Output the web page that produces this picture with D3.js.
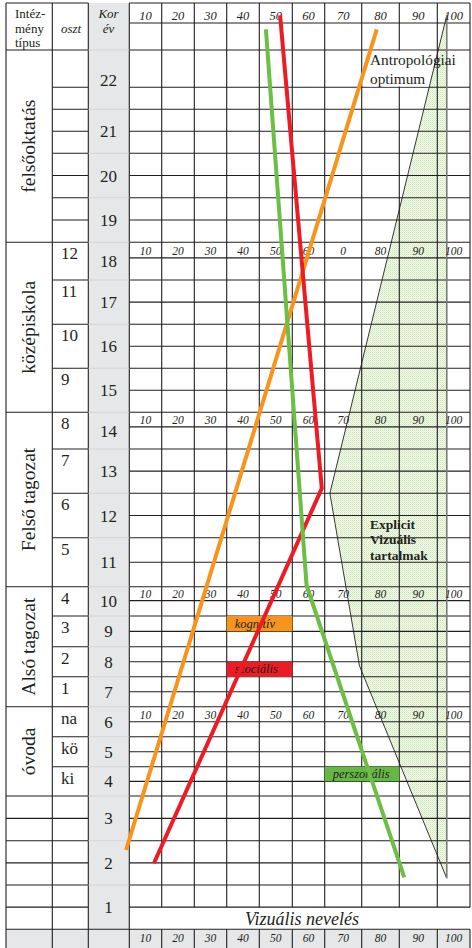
<!DOCTYPE html>
<html>
<head>
<meta charset="utf-8">
<script src="https://cdn.jsdelivr.net/npm/d3@7"></script>
<style>
  body { margin: 0; background: #fff; }
  svg { display: block; }
  text { font-family: "Liberation Serif", "Times New Roman", serif; fill: #231f20; }
</style>
</head>
<body>
<div id="chart"></div>
<script>
// ---- data ----
var ages = d3.range(22, 0, -1);               // Kor (év) 22 .. 1
var valueTicks = [10, 20, 30, 40, 50, 60, 70, 80, 90, 100];
var tickText = valueTicks.map(String);
var tickTextKozep = ["10", "20", "30", "40", "50", "60", "0", "80", "90", "100"]; // printed like this
var sectionNames = ["felsőoktatás", "középiskola", "Felső tagozat", "Alsó tagozat", "óvoda"];
var sectionAges = [[22, 19], [18, 15], [14, 11], [10, 7], [6, 4]];
var osztAges = [18, 17, 16, 15, 14, 13, 12, 11, 10, 9, 8, 7, 6, 5, 4];
var osztText = ["12", "11", "10", "9", "8", "7", "6", "5", "4", "3", "2", "1", "na", "kö", "ki"];

// lines: [value, age]
var kognitiv = [[4.0, 2.29], [79.0, 22.94]];
var szocialis = [[12.6, 1.99], [64.1, 12.61], [51.3, 23.24]];
var perszonalis = [[47.0, 22.94], [59.4, 10.53], [86.3, 1.67]];
var explicitArea = [[97.9, 23.24], [66.4, 12.5], [74.4, 7.86], [97.9, 1.65]];

// legend boxes: name, value from-to, age from-to
var labelNames = ["kognitív", "szociális", "perszonális"];
var labelValues = [[35, 55], [35, 55], [65, 85]];
var labelAges = [[9.5, 9.0], [8.0, 7.5], [4.5, 4.0]];
var labelColors = ["#f7941e", "#ec1c24", "#66b846"];

// ---- layout ----
var width = 472, height = 948;
var colInst = 6, colOszt = 52.3, colKor = 88.3, colGrid = 129.3, right = 470;
var topY = 3, headLabelY = 23, footTop = 929.3;
var korEdges = [50, 109.3, 153.3, 197.7, 242.3, 280, 324.3, 368.3, 412.3, 449, 493.3,
  537.7, 586.7, 616, 646.7, 676.7, 706.7, 736.7, 766.7, 796, 840.7, 885, 929.3];
var ink = "#231f20", korGray = "#e6e7e8";

var svg = d3.select("#chart").append("svg")
  .attr("width", width)
  .attr("height", height);

var x = d3.scaleLinear()
  .domain(d3.range(5, 106, 10))
  .range([129.3, 161.7, 194.3, 226.7, 259.3, 292.3, 324.7, 361.7, 399.3, 437.3, 470]);

var y = d3.scaleLinear()
  .domain([23.5].concat(korEdges.map(function (d, i) { return 22.5 - i; })))
  .range([topY].concat(korEdges));

var firstAges = sectionAges.map(function (s) { return s[0]; });
function cellTop(a) { return y(a + 0.5); }
function cellBot(a) { return y(a - 0.5); }
function split(a) {
  if (firstAges.indexOf(a) >= 0) return cellBot(a) - (cellBot(a - 1) - cellTop(a - 1)) / 2;
  return (cellTop(a) + cellBot(a)) / 2;
}
var gridBottom = split(1);

// pattern for the shaded area
var defs = svg.append("defs");
var pat = defs.append("pattern").attr("id", "dots")
  .attr("width", 2).attr("height", 2).attr("patternUnits", "userSpaceOnUse");
pat.append("rect").attr("width", 2).attr("height", 2).attr("fill", "#f4faee");
pat.append("rect").attr("width", 1).attr("height", 1).attr("fill", "#cde6b5");
pat.append("rect").attr("x", 1).attr("y", 1).attr("width", 1).attr("height", 1).attr("fill", "#dcefca");

// gray Kor column and footer
svg.append("rect").attr("x", colKor).attr("y", topY).attr("width", colGrid - colKor)
  .attr("height", footTop - topY).attr("fill", korGray);
svg.append("rect").attr("x", colInst).attr("y", footTop).attr("width", right - colInst)
  .attr("height", height - footTop).attr("fill", korGray);

// shaded area fill
var line = d3.line().x(function (d) { return x(d[0]); }).y(function (d) { return y(d[1]); });
svg.append("path").attr("d", line(explicitArea) + "Z").attr("fill", "url(#dots)");

// ---- grid lines ----
var g = svg.append("g").attr("stroke", ink).attr("stroke-width", 1.1).attr("fill", "none");
function hline(x1, x2, yy) { g.append("line").attr("x1", x1).attr("x2", x2).attr("y1", yy).attr("y2", yy); }
function vline(xx, y1, y2) { g.append("line").attr("x1", xx).attr("x2", xx).attr("y1", y1).attr("y2", y2); }

// grid rows
var gridRows = [topY, headLabelY, korEdges[0]];
ages.forEach(function (a) { gridRows.push(split(a)); if (a > 1) gridRows.push(cellBot(a)); });
gridRows.forEach(function (r) { hline(colGrid, right, r); });
hline(colInst, right, footTop);
hline(colInst, colKor, topY);
hline(colInst, colKor, korEdges[0]);

// institution column
sectionAges.forEach(function (s) { hline(colInst, colOszt, cellBot(s[1])); });
[3, 2, 1].forEach(function (a) { hline(colInst, colOszt, split(a)); if (a > 1) hline(colInst, colOszt, cellBot(a)); });

// oszt column
ages.forEach(function (a) {
  var withOszt = osztAges.indexOf(a) >= 0;
  if (!withOszt) hline(colOszt, colKor, split(a));
  if (a > 1) hline(colOszt, colKor, cellBot(a));
});

// Kor column cell borders (light)
svg.append("g").selectAll("line").data(ages.slice(0, -1).concat([23])).enter().append("line")
  .attr("x1", colKor).attr("x2", colGrid)
  .attr("y1", function (a) { return cellBot(a); })
  .attr("y2", function (a) { return cellBot(a); })
  .attr("stroke", "#d0d0d2").attr("stroke-width", 0.8);

// vertical lines
[colInst, colOszt, colKor, colGrid].forEach(function (c) { vline(c, topY, height); });
d3.range(15, 96, 10).forEach(function (v) { vline(x(v), topY, gridBottom); vline(x(v), footTop, height); });
vline(right, topY, gridBottom);
vline(right, footTop, height);

// white box behind "Antropológiai optimum"
svg.append("rect").attr("x", 366).attr("y", korEdges[0] + 0.8)
  .attr("width", 64).attr("height", split(22) - korEdges[0] - 1.6).attr("fill", "#fff");

// shaded area outline
svg.append("path").attr("d", line(explicitArea))
  .attr("fill", "none").attr("stroke", ink).attr("stroke-width", 0.9);
svg.append("line")
  .attr("x1", x(explicitArea[0][0])).attr("x2", x(explicitArea[3][0]))
  .attr("y1", y(explicitArea[0][1])).attr("y2", y(explicitArea[3][1]))
  .attr("stroke", "#7a7a7a").attr("stroke-width", 1.6);

// ---- tick labels ----
function tickRow(labels, baseY, size) {
  svg.append("g").selectAll("text").data(valueTicks).enter().append("text")
    .attr("x", function (v) { return x(v); })
    .attr("y", baseY)
    .attr("text-anchor", "middle")
    .attr("font-style", "italic")
    .attr("font-size", size)
    .text(function (v, i) { return labels[i]; });
}
tickRow(tickText, 19.5, 12.5);
[18, 14, 10, 6].forEach(function (a) {
  tickRow(a === 18 ? tickTextKozep : tickText, split(a) - 3, 11.5);
});
tickRow(tickText, 941.5, 11.5);

// ---- header ----
var head = svg.append("g");
[["Intéz-", 18], ["mény", 33], ["típus", 47]].forEach(function (d) {
  head.append("text").attr("x", 15).attr("y", d[1]).attr("font-size", 13).text(d[0]);
});
head.append("text").attr("x", 71).attr("y", 33).attr("text-anchor", "middle")
  .attr("font-size", 13).attr("font-style", "italic").text("oszt");
head.append("text").attr("x", 108.5).attr("y", 18).attr("text-anchor", "middle")
  .attr("font-size", 13).attr("font-style", "italic").text("Kor");
head.append("text").attr("x", 108.5).attr("y", 33).attr("text-anchor", "middle")
  .attr("font-size", 13).attr("font-style", "italic").text("év");

// section names
svg.append("g").selectAll("text").data(sectionNames).enter().append("text")
  .attr("transform", function (d, i) {
    var cy = (cellTop(sectionAges[i][0]) + cellBot(sectionAges[i][1])) / 2;
    return "translate(" + 29 + "," + cy + ") rotate(-90)";
  })
  .attr("text-anchor", "middle")
  .attr("dy", "0.33em")
  .attr("font-size", 19.5)
  .text(function (d) { return d; });

// oszt labels
svg.append("g").selectAll("text").data(osztAges).enter().append("text")
  .attr("x", 61)
  .attr("y", function (a) { return cellTop(a) + 17; })
  .attr("font-size", 17)
  .text(function (a, i) { return osztText[i]; });

// Kor numbers
svg.append("g").selectAll("text").data(ages).enter().append("text")
  .attr("x", 108.5)
  .attr("y", function (a) { return (cellTop(a) + cellBot(a)) / 2 + 6; })
  .attr("text-anchor", "middle")
  .attr("font-size", 17)
  .attr("fill", "#333")
  .text(function (a) { return a; });

// ---- legend boxes ----
var lb = svg.append("g").selectAll("g").data(labelNames).enter().append("g");
lb.append("rect")
  .attr("x", function (d, i) { return x(labelValues[i][0]); })
  .attr("y", function (d, i) { return y(labelAges[i][0]); })
  .attr("width", function (d, i) { return x(labelValues[i][1]) - x(labelValues[i][0]); })
  .attr("height", function (d, i) { return y(labelAges[i][1]) - y(labelAges[i][0]); })
  .attr("fill", function (d, i) { return labelColors[i]; });
lb.append("text")
  .attr("x", function (d, i) { return x(labelValues[i][0]) + 8; })
  .attr("y", function (d, i) { return y(labelAges[i][1]) - 3.5; })
  .attr("font-size", 12.5)
  .attr("font-style", "italic")
  .attr("fill", "#3b2a1c")
  .text(function (d) { return d; });

// ---- development lines ----
[[kognitiv, "#f7941e"], [szocialis, "#ec1c24"], [perszonalis, "#6cbe45"]].forEach(function (d) {
  svg.append("path").attr("d", line(d[0]))
    .attr("fill", "none").attr("stroke", d[1]).attr("stroke-width", 4)
    .attr("stroke-linejoin", "miter").attr("stroke-linecap", "butt");
});

// ---- annotations ----
svg.append("text").attr("x", 370).attr("y", 65).attr("font-size", 15.3).attr("fill", "#333").text("Antropológiai");
svg.append("text").attr("x", 370).attr("y", 83.5).attr("font-size", 15.3).attr("fill", "#333").text("optimum");
[["Explicit", 528.5], ["Vizuális", 544], ["tartalmak", 559.5]].forEach(function (d) {
  svg.append("text").attr("x", 370).attr("y", d[1]).attr("font-size", 13.5)
    .attr("font-weight", "bold").attr("fill", "#3a3a3a").text(d[0]);
});
svg.append("text").attr("x", 302).attr("y", 925).attr("text-anchor", "middle")
  .attr("font-size", 18).attr("font-style", "italic").attr("fill", "#333").text("Vizuális nevelés");
</script>
</body>
</html>
